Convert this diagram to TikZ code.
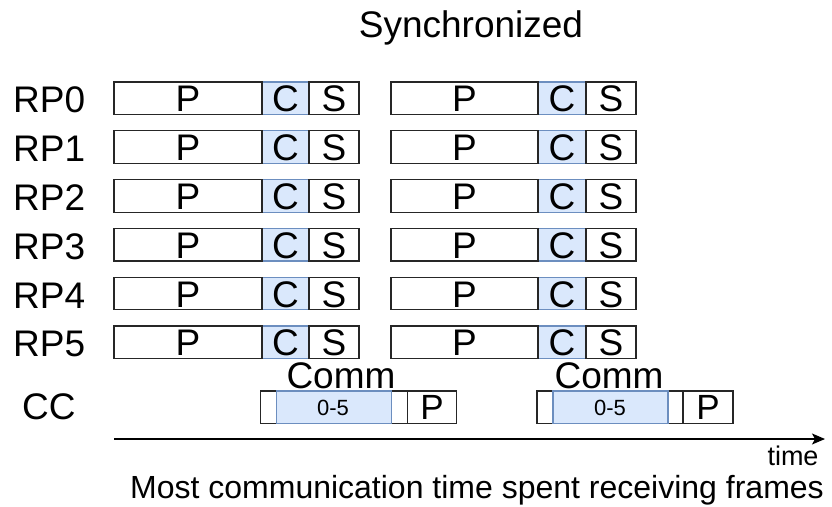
\documentclass[tikz,border=0pt]{standalone}
\usepackage{fontspec}
\setmainfont{Liberation Sans}
\usetikzlibrary{arrows.meta}
\definecolor{commfill}{HTML}{DAE8FC}
\definecolor{commline}{HTML}{6C8EBF}
\tikzset{
  slot/.style={draw=black!85, line width=1.2pt, fill=white},
  commslot/.style={draw=commline, line width=1.2pt, fill=commfill},
  big/.style={font=\fontsize{37}{40}\selectfont, inner sep=0pt, anchor=base},
  small/.style={font=\fontsize{22}{24}\selectfont, inner sep=0pt, anchor=base},
  caption/.style={font=\fontsize{32}{36}\selectfont, inner sep=0pt, anchor=base},
  axislabel/.style={font=\fontsize{27}{30}\selectfont, inner sep=0pt, anchor=base},
}
\begin{document}
\begin{tikzpicture}[x=1pt,y=-1pt]
\useasboundingbox (0,0) rectangle (832,506);

\node[big] (title) at (471,37.5) {Synchronized};

% one row per RP: processing, communication, synchronisation, twice
\foreach \i in {0,...,5}{
  \pgfmathsetmacro{\yc}{98.3+48.8*\i}
  \node[big, anchor=base west] (rp\i) at (13,\yc+14.5) {RP\i};
  % first period
  \draw[commslot] (262,\yc-16.3) rectangle (309,\yc+16.3);
  \draw[slot] (114,\yc-16.3) rectangle (262,\yc+16.3);
  \draw[slot] (309,\yc-16.3) rectangle (359,\yc+16.3);
  \node[big] (pa\i) at (188,\yc+13.5) {P};
  \node[big] (ca\i) at (285.5,\yc+13.5) {C};
  \node[big] (sa\i) at (334,\yc+13.5) {S};
  % second period
  \draw[commslot] (538,\yc-16.3) rectangle (586,\yc+16.3);
  \draw[slot] (391,\yc-16.3) rectangle (538,\yc+16.3);
  \draw[slot] (586,\yc-16.3) rectangle (636,\yc+16.3);
  \node[big] (pb\i) at (464.5,\yc+13.5) {P};
  \node[big] (cb\i) at (562,\yc+13.5) {C};
  \node[big] (sb\i) at (611,\yc+13.5) {S};
}

% central controller row
\node[big, anchor=base west] (cc) at (22,419.5) {CC};

\draw[slot] (260.5,391) rectangle (407.3,423.3);
\draw[commslot] (276.7,391) rectangle (391.5,423.3);
\draw[slot] (407.3,391) rectangle (456.7,423.3);
\node[big] (comma) at (341,388) {Comm};
\node[small] (ra) at (333,415.7) {0-5};
\node[font=\fontsize{35}{38}\selectfont, inner sep=0pt, anchor=base] (pc1) at (432,419) {P};

\draw[slot] (537,391) rectangle (683,423.3);
\draw[commslot] (553,391) rectangle (668,423.3);
\draw[slot] (683,391) rectangle (733,423.3);
\node[big] (commb) at (609,388) {Comm};
\node[small] (rb) at (610,415.7) {0-5};
\node[font=\fontsize{35}{38}\selectfont, inner sep=0pt, anchor=base] (pc2) at (708,419) {P};

% time axis
\coordinate (t0) at (114,439);
\coordinate (t1) at (825,439);
\draw[line width=1.3pt, -{Stealth[length=13pt,width=11pt,inset=3pt]}] (t0) -- (t1);
\node[axislabel] (time) at (793,465) {time};

\node[caption] (note) at (477,498) {Most communication time spent receiving frames};
\end{tikzpicture}
\end{document}
